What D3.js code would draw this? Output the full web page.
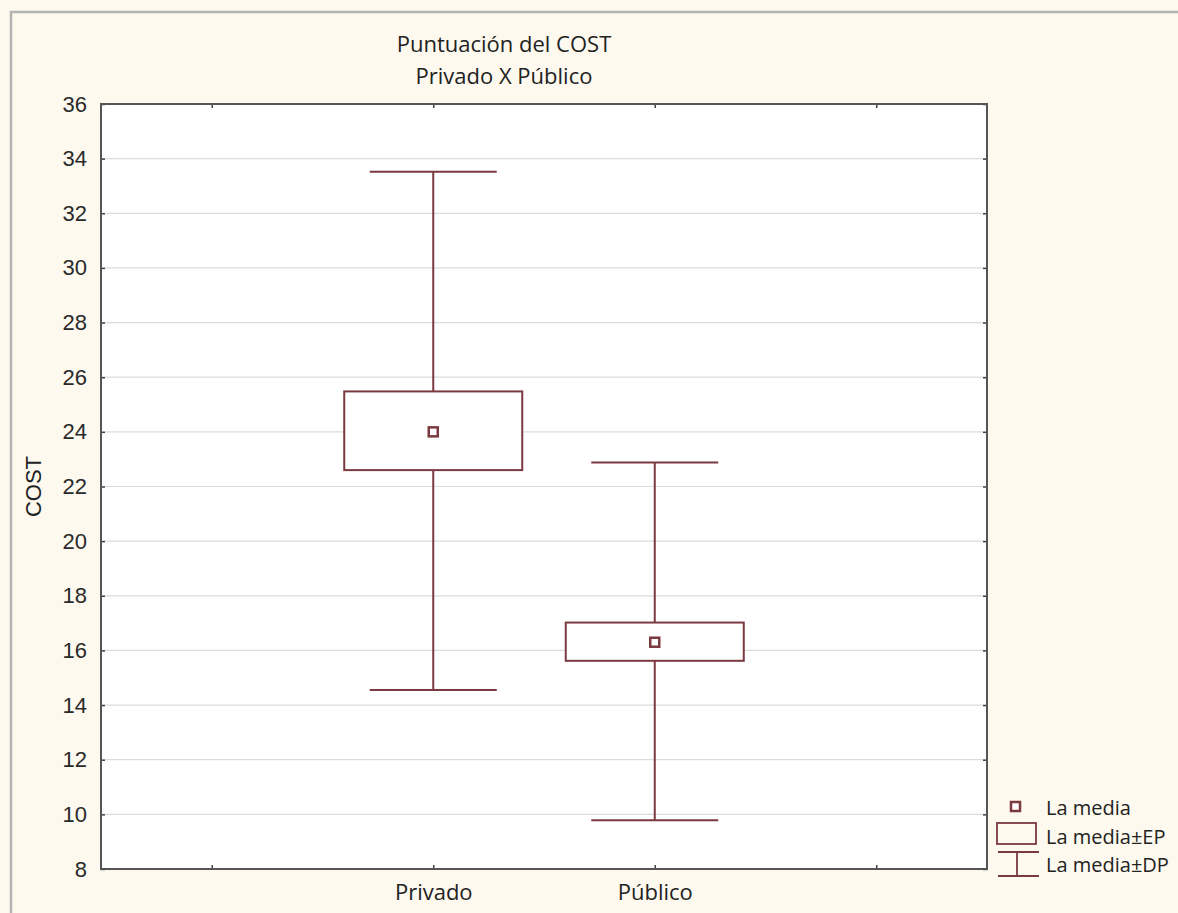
<!DOCTYPE html>
<html>
<head>
<meta charset="utf-8">
<script src="https://cdn.jsdelivr.net/npm/d3@7"></script>
<style>
  body { margin: 0; background: #fdf9ef; }
  svg { display: block; }
</style>
</head>
<body>
<script>
// datos
const categories = ["Privado", "Público"];
const catIndex = [1, 2];
const means = [24.0, 16.3];
const seLow = [22.6, 15.62];
const seHigh = [25.48, 17.02];
const sdLow = [14.55, 9.78];
const sdHigh = [33.52, 22.88];
const yTicks = [8, 10, 12, 14, 16, 18, 20, 22, 24, 26, 28, 30, 32, 34, 36];
const legendLabels = ["La media", "La media±EP", "La media±DP"];

const W = 1178, H = 913;
const plot = { left: 101, right: 987, top: 104, bottom: 869 };
const col = "#7b3a40";
const narrow = "'Open Sans', 'Noto Sans', sans-serif";
const arial = "'Liberation Sans', Arial, sans-serif";

const svg = d3.select("body").append("svg").attr("width", W).attr("height", H);

// marco exterior
svg.append("rect").attr("width", W).attr("height", H).attr("fill", "#fdf9ef");
svg.append("path")
  .attr("d", `M11,${H} V12 H${W}`)
  .attr("fill", "none").attr("stroke", "#b4b4b4").attr("stroke-width", 2.5);

const x = d3.scaleLinear().domain([-0.5, 3.5]).range([plot.left, plot.right]);
const y = d3.scaleLinear().domain([8, 36]).range([plot.bottom, plot.top]);

svg.append("rect")
  .attr("x", plot.left).attr("y", plot.top)
  .attr("width", plot.right - plot.left).attr("height", plot.bottom - plot.top)
  .attr("fill", "#fff");

// rejilla horizontal
svg.append("g").selectAll("line")
  .data(yTicks.slice(1, -1)).enter().append("line")
  .attr("x1", plot.left).attr("x2", plot.right)
  .attr("y1", d => y(d)).attr("y2", d => y(d))
  .attr("stroke", "#dcdcdc").attr("stroke-width", 1.2);

// ejes
const yAxis = svg.append("g").attr("transform", `translate(${plot.left},0)`)
  .call(d3.axisLeft(y).tickValues(yTicks).tickSize(-4).tickPadding(14).tickFormat(d3.format("d")));
yAxis.select(".domain").remove();
yAxis.selectAll("line").attr("stroke", "#444").attr("stroke-width", 1.5);
yAxis.selectAll("text").attr("font-family", arial)
  .attr("font-size", 22).attr("fill", "#2a2a2a");

const yRight = svg.append("g").attr("transform", `translate(${plot.right},0)`)
  .call(d3.axisRight(y).tickValues(yTicks).tickSize(-4).tickFormat(""));
yRight.select(".domain").remove();
yRight.selectAll("line").attr("stroke", "#444").attr("stroke-width", 1.5);

const xTickVals = [0, 1, 2, 3];
const xAxis = svg.append("g").attr("transform", `translate(0,${plot.bottom})`)
  .call(d3.axisBottom(x).tickValues(xTickVals).tickSize(-4).tickPadding(14)
    .tickFormat(d => { const i = catIndex.indexOf(d); return i >= 0 ? categories[i] : ""; }));
xAxis.select(".domain").remove();
xAxis.selectAll("line").attr("stroke", "#444").attr("stroke-width", 1.5);
xAxis.selectAll("text").attr("font-family", narrow).attr("font-size", 22)
  .attr("fill", "#222").attr("dy", null).attr("y", 31);

const xTop = svg.append("g").attr("transform", `translate(0,${plot.top})`)
  .call(d3.axisTop(x).tickValues(xTickVals).tickSize(-4).tickFormat(""));
xTop.select(".domain").remove();
xTop.selectAll("line").attr("stroke", "#444").attr("stroke-width", 1.5);

svg.append("rect")
  .attr("x", plot.left).attr("y", plot.top)
  .attr("width", plot.right - plot.left).attr("height", plot.bottom - plot.top)
  .attr("fill", "none").attr("stroke", "#555").attr("stroke-width", 2);

// cajas
const boxW = 178, capW = 127, mk = 9;
const g = svg.append("g").selectAll("g")
  .data(categories.map((c, i) => ({ c, i: catIndex[i], m: means[i], lo: seLow[i], hi: seHigh[i], sl: sdLow[i], sh: sdHigh[i] })))
  .enter().append("g").attr("stroke", col).attr("fill", "none").attr("stroke-width", 2);

g.append("line").attr("x1", d => x(d.i)).attr("x2", d => x(d.i))
  .attr("y1", d => y(d.sh)).attr("y2", d => y(d.hi));
g.append("line").attr("x1", d => x(d.i)).attr("x2", d => x(d.i))
  .attr("y1", d => y(d.lo)).attr("y2", d => y(d.sl));
g.append("line").attr("x1", d => x(d.i) - capW / 2).attr("x2", d => x(d.i) + capW / 2)
  .attr("y1", d => y(d.sh)).attr("y2", d => y(d.sh));
g.append("line").attr("x1", d => x(d.i) - capW / 2).attr("x2", d => x(d.i) + capW / 2)
  .attr("y1", d => y(d.sl)).attr("y2", d => y(d.sl));
g.append("rect").attr("x", d => x(d.i) - boxW / 2).attr("y", d => y(d.hi))
  .attr("width", boxW).attr("height", d => y(d.lo) - y(d.hi)).attr("fill", "#fff");
g.append("rect").attr("x", d => x(d.i) - mk / 2).attr("y", d => y(d.m) - mk / 2)
  .attr("width", mk).attr("height", mk).attr("fill", "#fff").attr("stroke-width", 2.5);

// títulos
const title = svg.append("g").attr("font-family", narrow).attr("font-size", 22)
  .attr("fill", "#222").attr("text-anchor", "middle");
title.append("text").attr("x", 504).attr("y", 52).text("Puntuación del COST");
title.append("text").attr("x", 504).attr("y", 84).text("Privado X Público");

svg.append("text")
  .attr("transform", `translate(41,${(plot.top + plot.bottom) / 2}) rotate(-90)`)
  .attr("text-anchor", "middle")
  .attr("font-family", arial).attr("font-size", 22)
  .attr("fill", "#222").text("COST");

// leyenda
const lg = svg.append("g");
lg.append("rect").attr("x", 1011).attr("y", 802).attr("width", 9).attr("height", 9)
  .attr("fill", "#fff").attr("stroke", col).attr("stroke-width", 2.5);
lg.append("rect").attr("x", 997).attr("y", 823).attr("width", 39).attr("height", 21)
  .attr("fill", "none").attr("stroke", col).attr("stroke-width", 1.8);
lg.append("path").attr("d", "M998,852 H1039 M1017,852 V876 M998,876 H1039")
  .attr("fill", "none").attr("stroke", col).attr("stroke-width", 1.8);
lg.selectAll("text").data(legendLabels).enter().append("text")
  .attr("x", 1046).attr("y", (d, i) => 815 + i * 28.5)
  .attr("font-family", narrow).attr("font-size", 20).attr("fill", "#222")
  .text(d => d);
</script>
</body>
</html>
